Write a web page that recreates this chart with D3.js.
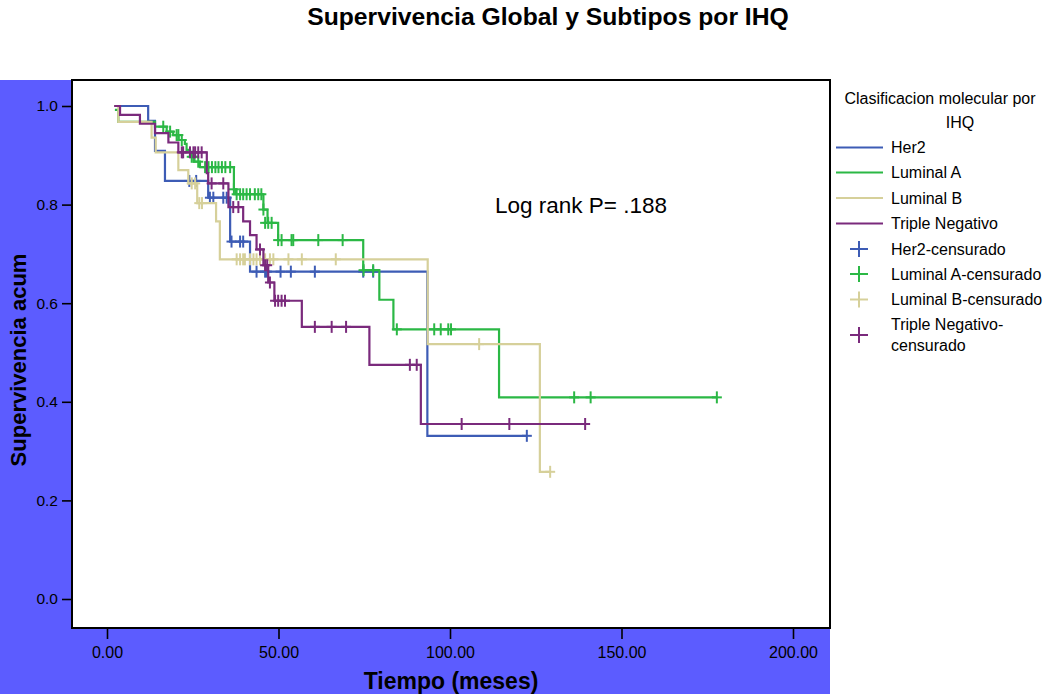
<!DOCTYPE html>
<html>
<head>
<meta charset="utf-8">
<script src="https://cdn.jsdelivr.net/npm/d3@7"></script>
<style>
  body { margin: 0; background: #fff; }
  text { font-family: "Liberation Sans", Arial, sans-serif; fill: #000; }
</style>
</head>
<body>
<svg width="1051" height="694"></svg>
<script>
// Kaplan-Meier steps: [tiempo, supervivencia] from that time on, last point = end of follow-up
var her2Steps = [[2.1,1.0],[12.0,0.970],[14.0,0.909],[16.9,0.848],[29.5,0.814],[35.9,0.725],
                 [41.7,0.664],[93.4,0.331],[122.4,0.331]];
var lumASteps = [[2.3,0.992],[3.3,0.968],[14.0,0.958],[17.4,0.948],[19.3,0.941],[20.9,0.931],
                 [22.7,0.923],[23.2,0.911],[24.2,0.897],[25.5,0.887],[27.1,0.876],[37.0,0.831],
                 [37.5,0.821],[45.6,0.790],[46.8,0.763],[49.9,0.728],[74.7,0.667],[79.4,0.607],
                 [83.5,0.547],[114.3,0.409],[177.8,0.409]];
var lumBSteps = [[2.1,1.0],[3.3,0.968],[13.0,0.936],[14.2,0.906],[20.8,0.870],[23.7,0.843],
                 [26.3,0.803],[31.8,0.766],[32.9,0.689],[93.5,0.517],[126.2,0.258],[129.2,0.258]];
var tnSteps   = [[2.1,1.0],[3.8,0.982],[9.6,0.964],[14.0,0.945],[17.9,0.926],[20.8,0.906],
                 [29.1,0.864],[29.5,0.843],[35.4,0.795],[39.7,0.766],[41.7,0.738],[43.6,0.709],
                 [45.6,0.677],[47.0,0.642],[48.8,0.605],[56.8,0.552],[76.5,0.475],[91.5,0.355],
                 [139.4,0.355]];

// censored cases: [tiempo, supervivencia]
var her2Cens = [[24.0,0.848],[26.0,0.848],[30.0,0.814],[31.0,0.814],[33.9,0.814],[34.9,0.814],
                [36.3,0.725],[38.8,0.725],[39.7,0.725],[43.6,0.664],[46.1,0.664],[46.6,0.664],
                [50.6,0.664],[53.6,0.664],[60.6,0.664],[74.7,0.664],[77.6,0.664],[122.4,0.331]];
var lumACens = [[16.4,0.958],[18.4,0.948],[20.3,0.941],[20.8,0.941],[21.8,0.931],[24.7,0.897],
                [25.2,0.897],[26.6,0.887],[28.6,0.876],[29.6,0.876],[30.6,0.876],[31.6,0.876],
                [32.5,0.876],[33.5,0.876],[34.5,0.876],[35.9,0.876],[37.0,0.831],[37.8,0.821],
                [38.8,0.821],[39.7,0.821],[40.7,0.821],[41.7,0.821],[43.1,0.821],[44.1,0.821],
                [45.0,0.821],[45.6,0.790],[46.1,0.763],[47.0,0.763],[48.0,0.763],[49.9,0.728],
                [50.9,0.728],[53.8,0.728],[54.3,0.728],[61.6,0.728],[68.7,0.728],[74.8,0.667],
                [77.6,0.667],[84.5,0.547],[95.4,0.547],[97.3,0.547],[99.5,0.547],[100.3,0.547],
                [136.2,0.409],[141.0,0.409],[177.8,0.409]];
var lumBCens = [[24.7,0.843],[25.7,0.843],[26.9,0.803],[27.7,0.803],[37.8,0.689],[38.8,0.689],
                [39.7,0.689],[40.2,0.689],[41.7,0.689],[42.7,0.689],[43.6,0.689],[44.6,0.689],
                [46.1,0.689],[47.5,0.689],[48.5,0.689],[52.9,0.689],[56.8,0.689],[66.7,0.689],
                [108.5,0.517],[129.2,0.258]];
var tnCens   = [[21.8,0.906],[22.2,0.906],[24.2,0.906],[25.2,0.906],[25.7,0.906],[26.6,0.906],
                [27.6,0.906],[30.5,0.843],[33.9,0.843],[36.8,0.795],[38.3,0.795],[44.6,0.709],
                [46.1,0.677],[46.7,0.677],[47.5,0.642],[49.0,0.605],[49.9,0.605],[50.9,0.605],
                [51.9,0.605],[60.6,0.552],[65.5,0.552],[69.7,0.552],[88.3,0.475],[90.3,0.475],
                [103.4,0.355],[117.3,0.355],[139.4,0.355]];

var groups = ["Her2", "Luminal A", "Luminal B", "Triple Negativo"];
var censLabels = [["Her2-censurado"], ["Luminal A-censurado"], ["Luminal B-censurado"],
                  ["Triple Negativo-", "censurado"]];
var xTicks = [0, 50, 100, 150, 200];
var yTicks = [0, 0.2, 0.4, 0.6, 0.8, 1.0];

var colours = ["#3d5cb5", "#2bb845", "#d6d09a", "#7a2a7c"];
var series = [
    { steps: her2Steps, cens: her2Cens },
    { steps: lumASteps, cens: lumACens },
    { steps: lumBSteps, cens: lumBCens },
    { steps: tnSteps,   cens: tnCens }
];

var svg = d3.select("svg"),
    x = d3.scaleLinear().domain([0, 200]).range([107, 793]),
    y = d3.scaleLinear().domain([0, 1]).range([599, 106]),
    box = { left: 72, top: 80, right: 830, bottom: 628 };

// blue panel and white plot area
svg.append("rect").attr("x", 0).attr("y", box.top)
    .attr("width", box.right).attr("height", 694 - box.top).attr("fill", "#5c5cff");
svg.append("rect").attr("x", box.left).attr("y", box.top)
    .attr("width", box.right - box.left).attr("height", box.bottom - box.top)
    .attr("fill", "#fff").attr("stroke", "#000").attr("stroke-width", 2);

// title
svg.append("text").attr("x", 548).attr("y", 16).attr("dy", "0.35em")
    .attr("text-anchor", "middle").style("font-weight", "bold").style("font-size", "24.7px")
    .text("Supervivencia Global y Subtipos por IHQ");

// axes
var xAxis = svg.append("g").attr("transform", "translate(0," + box.bottom + ")")
    .call(d3.axisBottom(x).tickValues(xTicks).tickFormat(d3.format(".2f")).tickSize(11).tickPadding(8));
var yAxis = svg.append("g").attr("transform", "translate(" + box.left + ",0)")
    .call(d3.axisLeft(y).tickValues(yTicks).tickFormat(d3.format(".1f")).tickSize(10).tickPadding(4));
[xAxis, yAxis].forEach(function (a) {
    a.select(".domain").remove();
    a.selectAll(".tick line").attr("stroke", "#000").attr("stroke-width", 1.6);
    a.selectAll(".tick text").style("font-family", "'Liberation Sans', Arial, sans-serif");
});
xAxis.selectAll(".tick text").style("font-size", "16px");
yAxis.selectAll(".tick text").style("font-size", "15.5px");

svg.append("text").attr("x", 451).attr("y", 681).attr("dy", "0.35em")
    .attr("text-anchor", "middle").style("font-weight", "bold").style("font-size", "23px")
    .text("Tiempo (meses)");
svg.append("text").attr("transform", "translate(18,360) rotate(-90)").attr("dy", "0.35em")
    .attr("text-anchor", "middle").style("font-weight", "bold").style("font-size", "22px")
    .text("Supervivencia acum");

// curves
var line = d3.line().x(d => x(d[0])).y(d => y(d[1])).curve(d3.curveStepAfter);
var plot = svg.append("g");

series.forEach(function (s, i) {
    plot.append("path").datum(s.steps)
        .attr("d", line).attr("fill", "none")
        .attr("stroke", colours[i]).attr("stroke-width", 2.2);

    var marks = plot.append("g").attr("stroke", colours[i]).attr("stroke-width", 2);
    marks.selectAll(".v").data(s.cens).enter().append("line")
        .attr("x1", d => x(d[0])).attr("x2", d => x(d[0]))
        .attr("y1", d => y(d[1]) - 6).attr("y2", d => y(d[1]) + 6);
    marks.selectAll(".h").data(s.cens).enter().append("line")
        .attr("x1", d => x(d[0]) - 5).attr("x2", d => x(d[0]) + 5)
        .attr("y1", d => y(d[1])).attr("y2", d => y(d[1]));
});

svg.append("text").attr("x", 581).attr("y", 205).attr("dy", "0.35em")
    .attr("text-anchor", "middle").style("font-size", "22.5px")
    .text("Log rank P= .188");

// legend
var lg = svg.append("g").style("font-size", "16px");
lg.append("text").attr("x", 940).attr("y", 98).attr("dy", "0.35em")
    .attr("text-anchor", "middle").text("Clasificacion molecular por");
lg.append("text").attr("x", 960).attr("y", 122).attr("dy", "0.35em")
    .attr("text-anchor", "middle").text("IHQ");

var lineRows = [147.5, 172.5, 198, 223.5],
    censRows = [249, 274, 299.5, 335];

groups.forEach(function (g, i) {
    lg.append("line").attr("x1", 836).attr("x2", 883)
        .attr("y1", lineRows[i]).attr("y2", lineRows[i])
        .attr("stroke", colours[i]).attr("stroke-width", 2);
    lg.append("text").attr("x", 891).attr("y", lineRows[i]).attr("dy", "0.35em").text(g);

    var cy = censRows[i];
    lg.append("line").attr("x1", 850).attr("x2", 868).attr("y1", cy).attr("y2", cy)
        .attr("stroke", colours[i]).attr("stroke-width", 2);
    lg.append("line").attr("x1", 859).attr("x2", 859).attr("y1", cy - 8).attr("y2", cy + 8)
        .attr("stroke", colours[i]).attr("stroke-width", 2);
    var lab = censLabels[i];
    lab.forEach(function (t, k) {
        lg.append("text").attr("x", 891)
            .attr("y", cy + (k - (lab.length - 1) / 2) * 21).attr("dy", "0.35em").text(t);
    });
});
</script>
</body>
</html>
